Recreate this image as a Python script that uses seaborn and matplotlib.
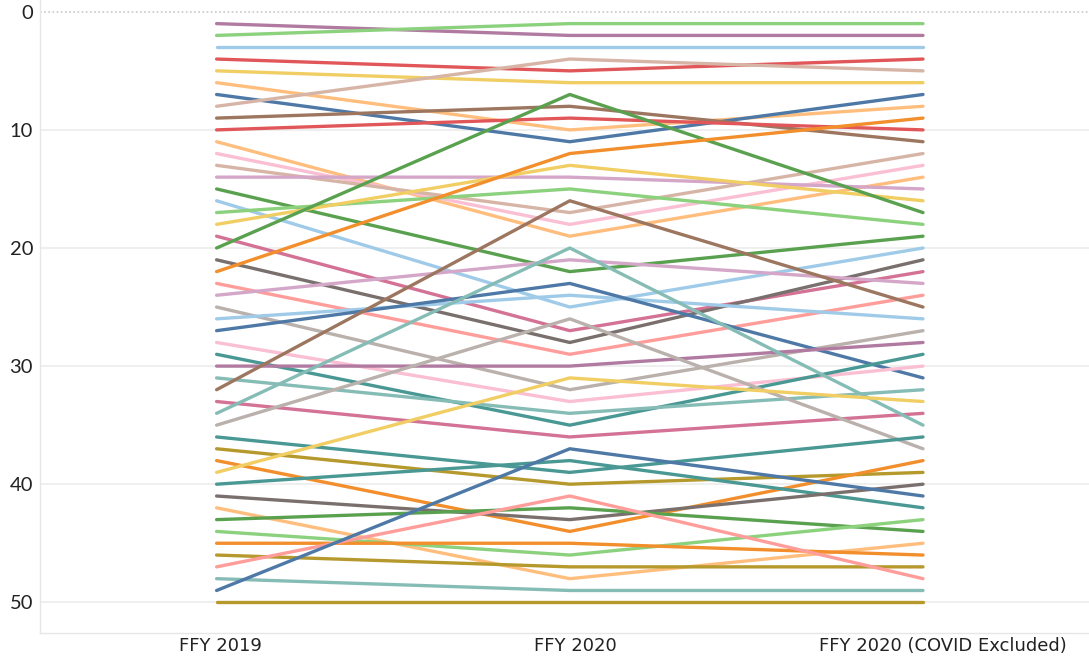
import matplotlib
matplotlib.use("Agg")
import matplotlib.pyplot as plt
import matplotlib.transforms as mtransforms
import pandas as pd
import seaborn as sns

periods = ["FFY 2019", "FFY 2020", "FFY 2020 (COVID Excluded)"]

# rank of each line in the three periods
rank_2019 = list(range(1, 51))
rank_2020 = [2, 1, 3, 5, 6, 10, 11, 4, 8, 9,
             19, 18, 17, 14, 22, 25, 15, 13, 27, 7,
             28, 12, 29, 21, 32, 24, 23, 33, 35, 30,
             34, 16, 36, 20, 26, 39, 40, 44, 31, 38,
             43, 48, 42, 46, 45, 47, 41, 49, 37, 50]
rank_2020_ex = [2, 1, 3, 4, 6, 8, 7, 5, 11, 10,
                14, 13, 12, 15, 19, 20, 18, 16, 22, 17,
                21, 9, 24, 23, 27, 26, 31, 30, 29, 28,
                32, 25, 34, 35, 37, 36, 39, 38, 33, 42,
                40, 45, 44, 43, 46, 47, 48, 49, 41, 50]

# tableau-20 style colours, one per line
line_colors = ["#b07aa1", "#8cd17d", "#a0cbe8", "#e15759", "#f1ce63",
               "#ffbe7d", "#4e79a7", "#d7b5a6", "#9d7660", "#e15759",
               "#ffbe7d", "#fabfd2", "#d7b5a6", "#d4a6c8", "#59a14f",
               "#a0cbe8", "#8cd17d", "#f1ce63", "#d37295", "#59a14f",
               "#79706e", "#f28e2b", "#ff9d9a", "#d4a6c8", "#bab0ac",
               "#a0cbe8", "#4e79a7", "#fabfd2", "#499894", "#b07aa1",
               "#86bcb6", "#9d7660", "#d37295", "#86bcb6", "#bab0ac",
               "#499894", "#b6992d", "#f28e2b", "#f1ce63", "#499894",
               "#79706e", "#ffbe7d", "#59a14f", "#8cd17d", "#f28e2b",
               "#b6992d", "#ff9d9a", "#86bcb6", "#4e79a7", "#b6992d"]

rows = []
for i in range(len(rank_2019)):
    for p, vals in enumerate([rank_2019, rank_2020, rank_2020_ex]):
        rows.append({"line": i, "period": p, "rank": vals[i]})
df = pd.DataFrame(rows)

sns.set_style("white")
plt.rcParams["font.family"] = ["Lato", "DejaVu Sans"]

fig = plt.figure(figsize=(10.89, 6.58), dpi=100)
ax = fig.add_axes([40 / 1089, 25 / 658, 1049 / 1089, 633 / 658])

sns.lineplot(data=df, x="period", y="rank", hue="line",
             palette=line_colors, legend=False, linewidth=2.4, ax=ax)

ax.set_xlim(-0.5, 2.47)
ax.set_ylim(52.6, -1.0)

# gridlines
for v in [10, 20, 30, 40, 50]:
    ax.axhline(v, color="#ececec", lw=1.2, zorder=0)
ax.axhline(0, color="#c8c8c8", lw=1.2, ls=(0, (1, 1.5)), zorder=0)

ax.set_yticks([0, 10, 20, 30, 40, 50])
ax.set_yticklabels(["0", "10", "20", "30", "40", "50"], fontsize=14.5, color="#222222")
ax.set_xticks([0, 1, 2])
ax.set_xticklabels(periods, fontsize=13, color="#222222", family=["DejaVu Sans"])
ax.set_xticks([-0.5, 0.5, 1.5], minor=True)
ax.tick_params(axis="y", length=0, pad=5)
ax.tick_params(axis="x", which="major", length=0, pad=3)
ax.tick_params(axis="x", which="minor", length=5, color="#e6e6e6", width=1, direction="out")
ax.set_xlabel("")
ax.set_ylabel("")

# nudge header labels a little to the right, like the original
for lab, dx in zip(ax.get_xticklabels(), [4, 6, 20]):
    lab.set_transform(lab.get_transform() + mtransforms.ScaledTranslation(dx / 100, 0, fig.dpi_scale_trans))

for s in ["top", "right"]:
    ax.spines[s].set_visible(False)
ax.spines["left"].set_color("#e6e6e6")
ax.spines["bottom"].set_color("#e6e6e6")
ax.spines["left"].set_linewidth(1)
ax.spines["bottom"].set_linewidth(1)

fig.savefig("out.png", dpi=100)
